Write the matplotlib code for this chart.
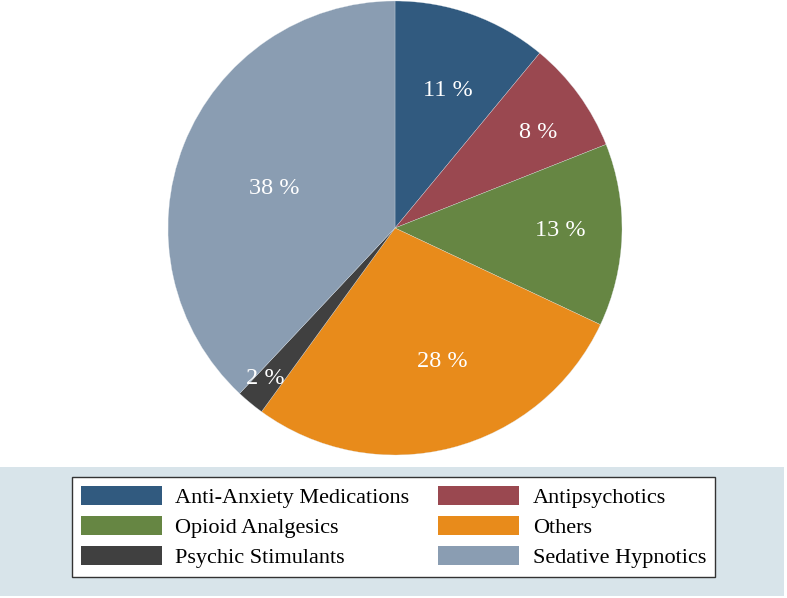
import matplotlib.pyplot as plt
from matplotlib.patches import Rectangle
import numpy as np

# Share of each drug class (percent)
categories = ['Anti-Anxiety Medications', 'Antipsychotics', 'Opioid Analgesics',
              'Others', 'Psychic Stimulants', 'Sedative Hypnotics']
shares = [11, 8, 13, 28, 2, 38]
colors = ['#315a7f', '#9a4850', '#668643', '#e88b1b', '#404040', '#8a9db2']

# where each percent label sits: fraction of radius, and turn from mid-angle (deg)
label_dist = [0.658, 0.764, 0.73, 0.614, 0.87, 0.564]
label_turn = [-0.9, -1.6, 1.8, 5.5, -1.6, 2.5]

plt.rcParams['font.family'] = ['Liberation Serif', 'DejaVu Serif']

fig = plt.figure(figsize=(7.87, 5.98), dpi=100)

# light band behind the legend
fig.patches.append(Rectangle((0, 2 / 598), 784 / 787, 129 / 598,
                             transform=fig.transFigure, facecolor='#d8e4ea',
                             edgecolor='none', zorder=0))

ax = fig.add_axes([(395 - 227) / 787, (598 - 228 - 227) / 598, 454 / 787, 454 / 598])
wedges, _ = ax.pie(shares, colors=colors, startangle=90, counterclock=False,
                   wedgeprops=dict(edgecolor='#dfe6ec', linewidth=0.2))
ax.set_xlim(-1, 1)
ax.set_ylim(-1, 1)
ax.set_aspect('equal')
ax.axis('off')

# percent labels
for w, val, d, t in zip(wedges, shares, label_dist, label_turn):
    ang = np.deg2rad((w.theta1 + w.theta2) / 2 + t)
    ax.text(d * np.cos(ang), d * np.sin(ang) - 0.01, f'{val} %', color='white',
            fontsize=17.5, ha='center', va='center')

# legend filled row by row (matplotlib fills columns first)
order = [0, 2, 4, 1, 3, 5]
leg = fig.legend([wedges[i] for i in order], [categories[i] for i in order],
                 ncol=2, loc='center',
                 bbox_to_anchor=(393.5 / 787, (598 - 527) / 598),
                 fontsize=16, handlelength=3.65, handleheight=0.95,
                 handletextpad=0.6, columnspacing=1.3, labelspacing=0.36,
                 borderpad=0.4, fancybox=False, framealpha=1)
leg.get_frame().set_edgecolor('#333333')
leg.get_frame().set_linewidth(1.0)
for h in leg.legend_handles:
    h.set_edgecolor('none')

fig.savefig('out.png', dpi=100)
